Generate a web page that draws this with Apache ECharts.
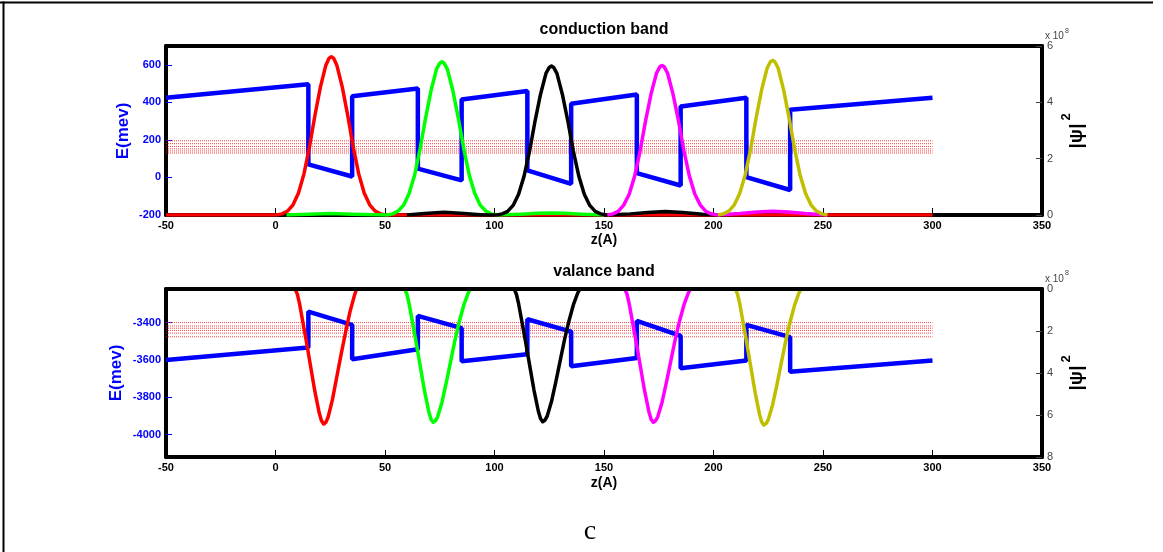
<!DOCTYPE html>
<html>
<head>
<meta charset="utf-8">
<script src="https://cdn.jsdelivr.net/npm/echarts@6/dist/echarts.min.js"></script>
<style>
  html, body { margin: 0; padding: 0; background: #fff; }
  #chart { width: 1163px; height: 552px; }
</style>
</head>
<body>
<div id="chart"></div>
<script>
// ---- conduction band: potential profile (z in Å, E in meV) ----
const cbZ = [-50, 15, 15, 35, 35, 65, 65, 85, 85, 115, 115, 135, 135, 165, 165, 185, 185, 215, 215, 235, 235, 300];
const cbE = [424, 496, 70, 5, 432, 474, 47, -16, 415, 460, 38, -34, 393, 442, 23, -43, 378, 424, 2, -67, 361, 424];
// conduction subband energies (meV)
const cbLevels = [195, 180, 165, 152, 141, 130];

// conduction band |psi|^2 (units of 1e8), pairs [z, value]
const cbRed = [[-50,0],[0.5,0],[3,0.04],[5.5,0.14],[8,0.36],[10.5,0.78],[13,1.46],[15.5,2.41],[18,3.53],[20.5,4.54],[23,5.32],[24.5,5.57],[25.5,5.62],[26.5,5.57],[28,5.32],[30.5,4.54],[33,3.53],[35.5,2.41],[38,1.46],[40.5,0.78],[43,0.36],[45.5,0.14],[48,0.04],[50.5,0],[300,0]];
const cbGreen = [[5,0],[15,0.03],[25,0.05],[35,0.03],[45,0.01],[51,0],[53.5,0.04],[56,0.14],[58.5,0.35],[61,0.76],[63.5,1.41],[66,2.34],[68.5,3.43],[71,4.41],[73.5,5.17],[75,5.39],[76,5.44],[77,5.39],[78.5,5.17],[81,4.41],[83.5,3.43],[86,2.34],[88.5,1.41],[91,0.76],[93.5,0.35],[96,0.14],[98.5,0.04],[101,0],[112,0.03],[120,0.06],[126,0.07],[132,0.06],[140,0.03],[150,0]];
const cbBlack = [[60,0],[68,0.05],[77,0.1],[86,0.05],[95,0],[101,0],[103.5,0.04],[106,0.13],[108.5,0.34],[111,0.74],[113.5,1.38],[116,2.27],[118.5,3.33],[121,4.28],[123.5,5.03],[125,5.24],[126,5.29],[127,5.24],[128.5,5.03],[131,4.28],[133.5,3.33],[136,2.27],[138.5,1.38],[141,0.74],[143.5,0.34],[146,0.13],[148.5,0.04],[151,0],[162,0.04],[170,0.09],[178,0.12],[186,0.09],[195,0.03],[205,0]];
const cbMagenta = [[151.5,0],[154,0.04],[156.5,0.13],[159,0.35],[161.5,0.74],[164,1.38],[166.5,2.28],[169,3.35],[171.5,4.3],[174,5.04],[175.5,5.26],[176.5,5.31],[177.5,5.26],[179,5.04],[181.5,4.3],[184,3.35],[186.5,2.28],[189,1.38],[191.5,0.74],[194,0.35],[196.5,0.13],[199,0.04],[201.5,0],[212,0.05],[220,0.11],[227,0.13],[234,0.11],[242,0.05],[252,0]];
const cbOlive = [[202,0],[204.5,0.04],[207,0.14],[209.5,0.36],[212,0.77],[214.5,1.43],[217,2.36],[219.5,3.46],[222,4.45],[224.5,5.22],[226,5.44],[227,5.49],[228,5.44],[229.5,5.22],[232,4.45],[234.5,3.46],[237,2.36],[239.5,1.43],[242,0.77],[244.5,0.36],[247,0.14],[249.5,0.04],[252,0]];

// ---- valence band: potential profile ----
const vbZ = [-50, 15, 15, 35, 35, 65, 65, 85, 85, 115, 115, 135, 135, 165, 165, 185, 185, 215, 215, 235, 235, 300];
const vbE = [-3600, -3534, -3341, -3412, -3596, -3543, -3364, -3430, -3607, -3570, -3382, -3448, -3634, -3590, -3391, -3471, -3645, -3603, -3412, -3478, -3663, -3603];
const vbLevels = [-3400, -3418, -3430, -3442, -3456, -3476];

// valence band |psi|^2 (units of 1e8, drawn downward)
const vbRed = [[9,0],[10,0.26],[11,0.71],[12,1.29],[14,2.44],[16,3.67],[18,4.89],[20,5.92],[21,6.27],[22,6.43],[23,6.35],[24,6.11],[26,5.27],[28,4.18],[30,3.09],[32,2.06],[34,1.09],[36,0.32],[37,0]];
const vbGreen = [[59,0],[60,0.25],[61,0.7],[62,1.27],[64,2.41],[66,3.62],[68,4.83],[70,5.84],[71,6.2],[72,6.35],[73,6.28],[74,6.1],[76,5.4],[78,4.45],[80,3.43],[82,2.41],[84,1.52],[86,0.76],[88,0.19],[89,0]];
const vbBlack = [[109,0],[110,0.25],[111,0.7],[112,1.26],[114,2.4],[116,3.6],[118,4.8],[120,5.81],[121,6.17],[122,6.32],[123,6.25],[124,6.07],[126,5.37],[128,4.42],[130,3.41],[132,2.4],[134,1.52],[136,0.76],[138,0.19],[139,0]];
const vbMagenta = [[159.5,0],[160.5,0.25],[161.5,0.7],[162.5,1.27],[164.5,2.41],[166.5,3.62],[168.5,4.83],[170.5,5.84],[171.5,6.2],[172.5,6.35],[173.5,6.28],[174.5,6.1],[176.5,5.4],[178.5,4.45],[180.5,3.43],[182.5,2.41],[184.5,1.52],[186.5,0.76],[188.5,0.19],[189.5,0]];
const vbOlive = [[210,0],[211,0.26],[212,0.71],[213,1.3],[215,2.46],[217,3.69],[219,4.92],[221,5.96],[222,6.33],[223,6.48],[224,6.41],[225,6.22],[227,5.51],[229,4.54],[231,3.5],[233,2.46],[235,1.56],[237,0.78],[239,0.19],[240,0]];

// tick labels
const zTicks = { min: -50, max: 350, step: 50 };
const cbTicks = [-200, 0, 200, 400, 600];
const vbTicks = [-4000, -3800, -3600, -3400];

const FONT = 'Liberation Sans';
const BLUE = '#0000ff';
const GREY = '#444444';

const chart = echarts.init(document.getElementById('chart'), null, { renderer: 'canvas' });

const plain = v => String(v);

function zAxis(grid, pos, z) {
  const bottom = pos === 'bottom';
  return {
    gridIndex: grid, type: 'value', position: pos, z: z || 0,
    min: zTicks.min, max: zTicks.max, interval: zTicks.step,
    axisLine: { show: true, onZero: false, lineStyle: { color: '#000', width: 4 } },
    axisTick: { show: bottom, inside: true, length: 7, lineStyle: { color: '#000', width: 1 } },
    axisLabel: { show: bottom, color: '#000', fontWeight: 'bold', fontSize: 11, fontFamily: FONT, margin: 5, formatter: plain },
    splitLine: { show: false }
  };
}

function leftAxis(grid, min, max, ticks) {
  return {
    gridIndex: grid, type: 'value', position: 'left', min: min, max: max,
    axisLine: { show: true, onZero: false, lineStyle: { color: '#000', width: 4 } },
    axisTick: { show: true, inside: true, length: 6, customValues: ticks, lineStyle: { color: BLUE, width: 1 } },
    axisLabel: { color: BLUE, fontWeight: 'bold', fontSize: 11, fontFamily: FONT, margin: 5, customValues: ticks, formatter: plain },
    splitLine: { show: false }
  };
}

function rightAxis(grid, max, inverse) {
  return {
    gridIndex: grid, type: 'value', position: 'right', min: 0, max: max, interval: 2, inverse: !!inverse,
    axisLine: { show: true, onZero: false, lineStyle: { color: '#000', width: 4 } },
    axisTick: { show: true, inside: true, length: 6, lineStyle: { color: GREY, width: 1 } },
    axisLabel: { color: GREY, fontSize: 11, fontFamily: FONT, margin: 5, formatter: plain },
    splitLine: { show: false }
  };
}

function line(data, color, width, xi, yi, extra) {
  return Object.assign({
    type: 'line', data: data, xAxisIndex: xi, yAxisIndex: yi,
    showSymbol: false, symbol: 'none', silent: true, animation: false,
    lineStyle: { color: color, width: width, join: 'round' }
  }, extra || {});
}

function pairs(zs, es) { return zs.map((z, i) => [z, es[i]]); }

function levelSeries(levels, xi, yi) {
  return levels.map(E => line([[zTicks.min, E], [300, E]], '#ff2020', 1, xi, yi,
    { lineStyle: { color: '#ff2020', width: 1, type: [1, 1], opacity: 0.85 } }));
}

const series = [].concat(
  levelSeries(cbLevels, 0, 0),
  [line(pairs(cbZ, cbE), BLUE, 4.5, 0, 0, { lineStyle: { color: BLUE, width: 4.5 } })],
  [
    line(cbRed, '#ff0000', 3.5, 0, 1),
    line(cbGreen, '#00ff00', 3.5, 0, 1),
    line(cbBlack, '#000000', 3.5, 0, 1),
    line(cbMagenta, '#ff00ff', 3.5, 0, 1),
    line(cbOlive, '#bfbf00', 3.5, 0, 1)
  ],
  levelSeries(vbLevels, 2, 2),
  [line(pairs(vbZ, vbE), BLUE, 4.5, 2, 2, { lineStyle: { color: BLUE, width: 4.5 } })],
  [
    line(vbRed, '#ff0000', 3.5, 2, 3),
    line(vbGreen, '#00ff00', 3.5, 2, 3),
    line(vbBlack, '#000000', 3.5, 2, 3),
    line(vbMagenta, '#ff00ff', 3.5, 2, 3),
    line(vbOlive, '#bfbf00', 3.5, 2, 3)
  ]
);

function txt(x, y, text, style, rot) {
  return {
    type: 'text', x: x, y: y, rotation: rot || 0, silent: true, z: 100,
    style: Object.assign({ text: text, fontFamily: FONT, fill: '#000', align: 'center', verticalAlign: 'middle' }, style)
  };
}

const graphic = [
  // page frame
  { type: 'line', silent: true, shape: { x1: 0, y1: 2.5, x2: 1153, y2: 2.5 }, style: { stroke: '#000', lineWidth: 2 } },
  { type: 'line', silent: true, shape: { x1: 3.5, y1: 1.5, x2: 3.5, y2: 552 }, style: { stroke: '#000', lineWidth: 2 } },
  // titles
  txt(604, 30, 'conduction band', { fontSize: 16, fontWeight: 'bold' }),
  txt(604, 272, 'valance band', { fontSize: 16, fontWeight: 'bold' }),
  // z axis names
  txt(604, 240, 'z(A)', { fontSize: 14, fontWeight: 'bold' }),
  txt(604, 483, 'z(A)', { fontSize: 14, fontWeight: 'bold' }),
  // energy axis names
  txt(123, 131, 'E(mev)', { fontSize: 17, fontWeight: 'bold', fill: BLUE }, Math.PI / 2),
  txt(116, 373, 'E(mev)', { fontSize: 17, fontWeight: 'bold', fill: BLUE }, Math.PI / 2),
  // |psi|^2 axis names
  txt(1077, 136, '|ψ|', { fontSize: 19, fontWeight: 'bold' }, Math.PI / 2),
  txt(1066, 117, '2', { fontSize: 13, fontWeight: 'bold' }, Math.PI / 2),
  txt(1077, 378, '|ψ|', { fontSize: 19, fontWeight: 'bold' }, Math.PI / 2),
  txt(1066, 359, '2', { fontSize: 13, fontWeight: 'bold' }, Math.PI / 2),
  // scale multipliers
  txt(1045, 36, 'x 10', { fontSize: 10, fill: GREY, align: 'left' }),
  txt(1065, 31, '8', { fontSize: 7, fill: GREY, align: 'left' }),
  txt(1045, 279, 'x 10', { fontSize: 10, fill: GREY, align: 'left' }),
  txt(1065, 273, '8', { fontSize: 7, fill: GREY, align: 'left' }),
  // panel caption
  txt(590, 532, 'c', { fontSize: 28, fontFamily: 'Liberation Serif' })
];

chart.setOption({
  animation: false,
  backgroundColor: '#fff',
  grid: [
    { left: 166, right: 121, top: 46, height: 169 },
    { left: 166, right: 121, top: 289, height: 168 }
  ],
  xAxis: [zAxis(0, 'bottom'), zAxis(0, 'top'), zAxis(1, 'bottom'), zAxis(1, 'top', 5)],
  yAxis: [
    leftAxis(0, -200, 700, cbTicks),
    rightAxis(0, 6, false),
    leftAxis(1, -4120, -3220, vbTicks),
    rightAxis(1, 8, true)
  ],
  series: series,
  graphic: graphic
});
</script>
</body>
</html>
